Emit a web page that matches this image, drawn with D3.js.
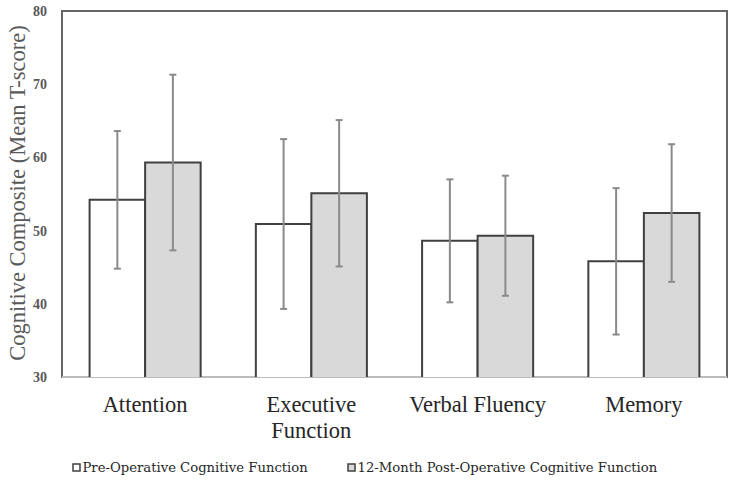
<!DOCTYPE html>
<html><head><meta charset="utf-8">
<script src="https://cdn.jsdelivr.net/npm/d3@7"></script>
<style>
html,body{margin:0;padding:0;background:#fff;}
</style>
</head><body>
<svg id="chart" width="732" height="489"></svg>
<script>
const categories = ["Attention", "Executive Function", "Verbal Fluency", "Memory"];
const categoryLines = [["Attention"], ["Executive", "Function"], ["Verbal Fluency"], ["Memory"]];
const preValues = [54.2, 50.9, 48.6, 45.8];
const preSD = [9.4, 11.6, 8.4, 10.0];
const postValues = [59.3, 55.1, 49.3, 52.4];
const postSD = [12.0, 10.0, 8.2, 9.4];
const yTicks = [30, 40, 50, 60, 70, 80];
const seriesNames = ["Pre-Operative Cognitive Function", "12-Month Post-Operative Cognitive Function"];
const yTitle = "Cognitive Composite (Mean T-score)";

const TIMES = '"Liberation Serif", "Times New Roman", Times, serif';
const LEGF = '"DejaVu Serif", serif';
const svg = d3.select("#chart");
const L = 62, R = 727, T = 11, B = 377;
const x = d3.scaleBand().domain(categories).range([L, R]).padding(0);
const y = d3.scaleLinear().domain([30, 80]).range([B, T]);
const barW = x.bandwidth() * 0.334;

const series = [
  {name: seriesNames[0], vals: preValues, sd: preSD, fill: "#ffffff", off: -barW},
  {name: seriesNames[1], vals: postValues, sd: postSD, fill: "#d9d9d9", off: 0}
];

// plot frame
svg.append("rect").attr("x", L).attr("y", T).attr("width", R - L).attr("height", B - T)
  .attr("fill", "none").attr("stroke", "#666666").attr("stroke-width", 2);
svg.append("line").attr("x1", L).attr("x2", R).attr("y1", B).attr("y2", B)
  .attr("stroke", "#d9d9d9").attr("stroke-width", 1.5);

// bars
series.forEach(s => {
  const g = svg.append("g");
  g.selectAll("path").data(categories).join("path")
    .attr("d", (c, i) => {
      const x0 = x(c) + x.bandwidth() / 2 + s.off, x1 = x0 + barW;
      return `M${x0},${y(30)}V${y(s.vals[i])}H${x1}V${y(30)}`;
    })
    .attr("fill", s.fill).attr("stroke", "#404040").attr("stroke-width", 2);
});
// error bars
series.forEach(s => {
  const g = svg.append("g").attr("stroke", "#8a8a8a").attr("stroke-width", 2);
  categories.forEach((c, i) => {
    const cx = x(c) + x.bandwidth() / 2 + s.off + barW / 2;
    const hi = y(s.vals[i] + s.sd[i]), lo = y(s.vals[i] - s.sd[i]);
    g.append("line").attr("x1", cx).attr("x2", cx).attr("y1", hi).attr("y2", lo);
    g.append("line").attr("x1", cx - 3.5).attr("x2", cx + 3.5).attr("y1", hi).attr("y2", hi);
    g.append("line").attr("x1", cx - 3.5).attr("x2", cx + 3.5).attr("y1", lo).attr("y2", lo);
  });
});

// y axis labels
const yAxis = d3.axisLeft(y).tickValues(yTicks).tickSize(0).tickPadding(15).tickFormat(d3.format("d"));
const ya = svg.append("g").attr("transform", `translate(${L},0)`).call(yAxis)
  .attr("font-family", TIMES).attr("font-size", 14);
ya.select(".domain").remove();
ya.selectAll("text").attr("fill", "#595959").attr("font-weight", "bold");

// y title
svg.append("text").attr("transform", `translate(25,${(T + B) / 2 - 1}) rotate(-90)`)
  .attr("text-anchor", "middle").attr("font-family", TIMES).attr("font-size", 22.5)
  .attr("fill", "#595959").text(yTitle);

// category labels
categories.forEach((c, i) => {
  const t = svg.append("text").attr("text-anchor", "middle")
    .attr("font-family", TIMES).attr("font-size", 22.5).attr("fill", "#262626");
  categoryLines[i].forEach((line, j) => {
    t.append("tspan").attr("x", x(c) + x.bandwidth() / 2).attr("y", 412 + j * 26).text(line);
  });
});

// legend
const legendX = [73, 348];
series.forEach((s, i) => {
  svg.append("rect").attr("x", legendX[i]).attr("y", 464).attr("width", 7).attr("height", 7)
    .attr("fill", s.fill).attr("stroke", "#404040").attr("stroke-width", 1.5);
  svg.append("text").attr("x", legendX[i] + 9.5).attr("y", 472)
    .attr("font-family", LEGF).attr("font-size", 13.2).attr("fill", "#262626").text(s.name);
});
</script>
</body></html>
